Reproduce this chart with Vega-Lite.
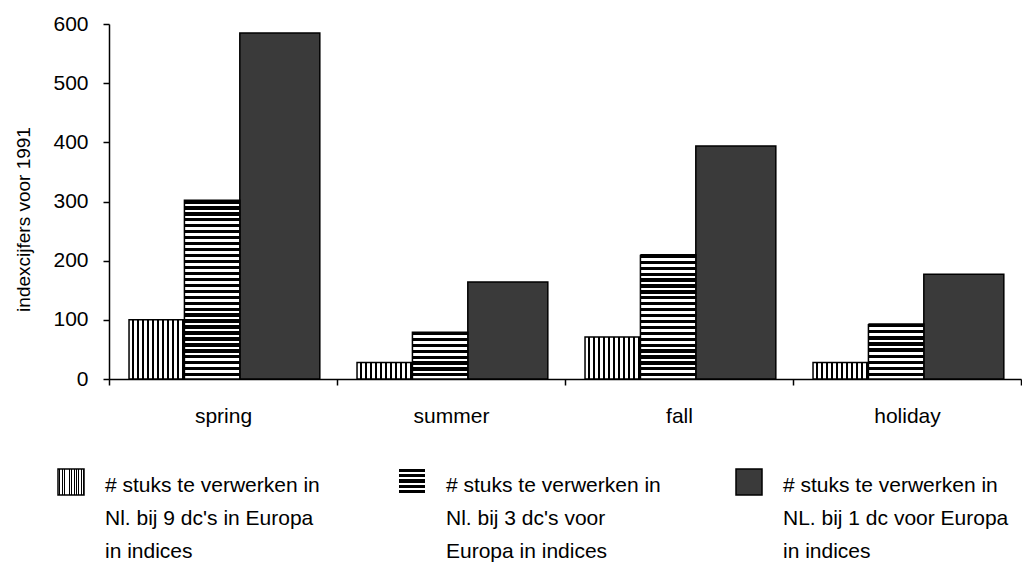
{
  "$schema": "https://vega.github.io/schema/vega-lite/v6.json",
  "width": 912,
  "height": 355,
  "autosize": {"type": "none"},
  "padding": {"left": 109, "top": 24, "right": 1, "bottom": 187},
  "background": "white",
  "config": {
    "view": {"stroke": null},
    "font": "Liberation Sans",
    "style": {"guide-label": {"lineHeight": 33, "dy": 10}}
  },
  "data": {
    "values": [
      {"season": "spring", "series": "# stuks te verwerken in\nNl. bij 9 dc's in Europa\nin indices", "value": 100},
      {"season": "spring", "series": "# stuks te verwerken in\nNl. bij 3 dc's voor\nEuropa in indices", "value": 302},
      {"season": "spring", "series": "# stuks te verwerken in\nNL. bij 1 dc voor Europa\nin indices", "value": 585},
      {"season": "summer", "series": "# stuks te verwerken in\nNl. bij 9 dc's in Europa\nin indices", "value": 28},
      {"season": "summer", "series": "# stuks te verwerken in\nNl. bij 3 dc's voor\nEuropa in indices", "value": 79},
      {"season": "summer", "series": "# stuks te verwerken in\nNL. bij 1 dc voor Europa\nin indices", "value": 164},
      {"season": "fall", "series": "# stuks te verwerken in\nNl. bij 9 dc's in Europa\nin indices", "value": 71},
      {"season": "fall", "series": "# stuks te verwerken in\nNl. bij 3 dc's voor\nEuropa in indices", "value": 210},
      {"season": "fall", "series": "# stuks te verwerken in\nNL. bij 1 dc voor Europa\nin indices", "value": 394},
      {"season": "holiday", "series": "# stuks te verwerken in\nNl. bij 9 dc's in Europa\nin indices", "value": 28},
      {"season": "holiday", "series": "# stuks te verwerken in\nNl. bij 3 dc's voor\nEuropa in indices", "value": 93},
      {"season": "holiday", "series": "# stuks te verwerken in\nNL. bij 1 dc voor Europa\nin indices", "value": 177}
    ]
  },
  "encoding": {
    "x": {
      "field": "season",
      "type": "nominal",
      "sort": ["spring", "summer", "fall", "holiday"],
      "scale": {"paddingInner": 0, "paddingOuter": 0},
      "title": null,
      "axis": {
        "labelAngle": 0,
        "labelFont": "Liberation Sans",
        "labelFontSize": 21,
        "labelColor": "black",
        "labelPadding": 10,
        "domainColor": "black",
        "domainWidth": 1.5,
        "tickColor": "black",
        "tickWidth": 1.5,
        "tickSize": 6,
        "tickBand": "extent",
        "grid": false
      }
    },
    "xOffset": {
      "field": "series",
      "type": "nominal",
      "scale": {
        "domain": [
          "# stuks te verwerken in\nNl. bij 9 dc's in Europa\nin indices",
          "# stuks te verwerken in\nNl. bij 3 dc's voor\nEuropa in indices",
          "# stuks te verwerken in\nNL. bij 1 dc voor Europa\nin indices"
        ],
        "paddingInner": 0,
        "paddingOuter": 0.558,
        "align": 0.324
      }
    },
    "y": {
      "field": "value",
      "type": "quantitative",
      "scale": {"domain": [0, 600], "nice": false},
      "title": "indexcijfers voor 1991",
      "axis": {
        "values": [0, 100, 200, 300, 400, 500, 600],
        "labelFont": "Liberation Sans",
        "labelFontSize": 21,
        "labelColor": "black",
        "labelPadding": 15,
        "labelBaseline": "bottom",
        "domainColor": "black",
        "domainWidth": 1.5,
        "tickColor": "black",
        "tickWidth": 1.5,
        "tickSize": 6,
        "grid": false,
        "titleFont": "Liberation Sans",
        "titleFontSize": 19,
        "titleFontWeight": "normal",
        "titleColor": "black",
        "titleAngle": 270,
        "titleAlign": "center",
        "titleBaseline": "middle",
        "titleX": -86,
        "titleY": 195
      }
    }
  },
  "layer": [
    {
      "transform": [{"filter": {"field": "series", "equal": "# stuks te verwerken in\nNL. bij 1 dc voor Europa\nin indices"}}],
      "mark": {"type": "bar", "align": "left", "width": 80, "stroke": "black", "strokeWidth": 1.5},
      "encoding": {
        "color": {
          "field": "series",
          "type": "nominal",
          "scale": {"range": ["#3a3a3a"]},
          "legend": {
            "title": null,
            "orient": "none",
            "legendX": 626,
            "legendY": 444,
            "padding": 0,
            "symbolType": "square",
            "symbolSize": 676,
            "symbolStrokeColor": "black",
            "symbolStrokeWidth": 1.5,
            "symbolOpacity": 1,
            "labelFont": "Liberation Sans",
            "labelFontSize": 21,
            "labelColor": "black",
            "labelLimit": 400,
            "labelOffset": 20,
            "labelBaseline": "alphabetic",
            "labelExpr": "split(datum.label, '\\n')"
          }
        }
      }
    },
    {
      "transform": [{"filter": {"field": "series", "equal": "# stuks te verwerken in\nNl. bij 9 dc's in Europa\nin indices"}}],
      "mark": {
        "type": "bar",
        "strokeWidth": 1.5,
        "fill": {"gradient": "linear", "x1": 0, "y1": 0, "x2": 1, "y2": 0, "stops": [
          {"offset": 0, "color": "#fff"}, {"offset": 0.0545, "color": "#fff"}, {"offset": 0.0545, "color": "#000"}, {"offset": 0.0909, "color": "#000"},
          {"offset": 0.0909, "color": "#fff"}, {"offset": 0.1455, "color": "#fff"}, {"offset": 0.1455, "color": "#000"}, {"offset": 0.1818, "color": "#000"},
          {"offset": 0.1818, "color": "#fff"}, {"offset": 0.2364, "color": "#fff"}, {"offset": 0.2364, "color": "#000"}, {"offset": 0.2727, "color": "#000"},
          {"offset": 0.2727, "color": "#fff"}, {"offset": 0.3273, "color": "#fff"}, {"offset": 0.3273, "color": "#000"}, {"offset": 0.3636, "color": "#000"},
          {"offset": 0.3636, "color": "#fff"}, {"offset": 0.4182, "color": "#fff"}, {"offset": 0.4182, "color": "#000"}, {"offset": 0.4545, "color": "#000"},
          {"offset": 0.4545, "color": "#fff"}, {"offset": 0.5091, "color": "#fff"}, {"offset": 0.5091, "color": "#000"}, {"offset": 0.5455, "color": "#000"},
          {"offset": 0.5455, "color": "#fff"}, {"offset": 0.6, "color": "#fff"}, {"offset": 0.6, "color": "#000"}, {"offset": 0.6364, "color": "#000"},
          {"offset": 0.6364, "color": "#fff"}, {"offset": 0.6909, "color": "#fff"}, {"offset": 0.6909, "color": "#000"}, {"offset": 0.7273, "color": "#000"},
          {"offset": 0.7273, "color": "#fff"}, {"offset": 0.7818, "color": "#fff"}, {"offset": 0.7818, "color": "#000"}, {"offset": 0.8182, "color": "#000"},
          {"offset": 0.8182, "color": "#fff"}, {"offset": 0.8727, "color": "#fff"}, {"offset": 0.8727, "color": "#000"}, {"offset": 0.9091, "color": "#000"},
          {"offset": 0.9091, "color": "#fff"}, {"offset": 0.9636, "color": "#fff"}, {"offset": 0.9636, "color": "#000"}, {"offset": 1, "color": "#000"}
        ]}
      },
      "encoding": {
        "stroke": {
          "field": "series",
          "type": "nominal",
          "scale": {"range": ["black"]},
          "legend": {
            "title": null,
            "orient": "none",
            "legendX": -52,
            "legendY": 444,
            "padding": 0,
            "symbolType": "square",
            "symbolSize": 676,
            "symbolStrokeWidth": 1.5,
            "symbolOpacity": 1,
            "labelFont": "Liberation Sans",
            "labelFontSize": 21,
            "labelColor": "black",
            "labelLimit": 400,
            "labelOffset": 20,
            "labelBaseline": "alphabetic",
            "labelExpr": "split(datum.label, '\\n')"
          }
        }
      }
    },
    {
      "transform": [{"filter": {"field": "series", "equal": "# stuks te verwerken in\nNl. bij 3 dc's voor\nEuropa in indices"}}],
      "mark": {"type": "bar", "stroke": "black", "strokeWidth": 1.5},
      "encoding": {
        "strokeDash": {
          "field": "series",
          "type": "nominal",
          "scale": {"range": [[1000, 1]]},
          "legend": {
            "title": null,
            "orient": "none",
            "legendX": 289,
            "legendY": 444,
            "padding": 0,
            "symbolType": "square",
            "symbolSize": 676,
            "symbolStrokeColor": "black",
            "symbolStrokeWidth": 1.5,
            "symbolOpacity": 1,
            "labelFont": "Liberation Sans",
            "labelFontSize": 21,
            "labelColor": "black",
            "labelLimit": 400,
            "labelOffset": 20,
            "labelBaseline": "alphabetic",
            "labelExpr": "split(datum.label, '\\n')"
          }
        },
        "fill": {
          "condition": [
            {"test": "datum.season === 'spring'", "value": {"gradient": "linear", "x1": 0, "y1": 0, "x2": 0, "y2": 1, "stops": [
              {"offset": 0, "color": "#000"}, {"offset": 0.0183, "color": "#000"}, {"offset": 0.0183, "color": "#fff"}, {"offset": 0.0333, "color": "#fff"},
              {"offset": 0.0333, "color": "#000"}, {"offset": 0.0517, "color": "#000"}, {"offset": 0.0517, "color": "#fff"}, {"offset": 0.0667, "color": "#fff"},
              {"offset": 0.0667, "color": "#000"}, {"offset": 0.085, "color": "#000"}, {"offset": 0.085, "color": "#fff"}, {"offset": 0.1, "color": "#fff"},
              {"offset": 0.1, "color": "#000"}, {"offset": 0.1183, "color": "#000"}, {"offset": 0.1183, "color": "#fff"}, {"offset": 0.1333, "color": "#fff"},
              {"offset": 0.1333, "color": "#000"}, {"offset": 0.1517, "color": "#000"}, {"offset": 0.1517, "color": "#fff"}, {"offset": 0.1667, "color": "#fff"},
              {"offset": 0.1667, "color": "#000"}, {"offset": 0.185, "color": "#000"}, {"offset": 0.185, "color": "#fff"}, {"offset": 0.2, "color": "#fff"},
              {"offset": 0.2, "color": "#000"}, {"offset": 0.2183, "color": "#000"}, {"offset": 0.2183, "color": "#fff"}, {"offset": 0.2333, "color": "#fff"},
              {"offset": 0.2333, "color": "#000"}, {"offset": 0.2517, "color": "#000"}, {"offset": 0.2517, "color": "#fff"}, {"offset": 0.2667, "color": "#fff"},
              {"offset": 0.2667, "color": "#000"}, {"offset": 0.285, "color": "#000"}, {"offset": 0.285, "color": "#fff"}, {"offset": 0.3, "color": "#fff"},
              {"offset": 0.3, "color": "#000"}, {"offset": 0.3183, "color": "#000"}, {"offset": 0.3183, "color": "#fff"}, {"offset": 0.3333, "color": "#fff"},
              {"offset": 0.3333, "color": "#000"}, {"offset": 0.3517, "color": "#000"}, {"offset": 0.3517, "color": "#fff"}, {"offset": 0.3667, "color": "#fff"},
              {"offset": 0.3667, "color": "#000"}, {"offset": 0.385, "color": "#000"}, {"offset": 0.385, "color": "#fff"}, {"offset": 0.4, "color": "#fff"},
              {"offset": 0.4, "color": "#000"}, {"offset": 0.4183, "color": "#000"}, {"offset": 0.4183, "color": "#fff"}, {"offset": 0.4333, "color": "#fff"},
              {"offset": 0.4333, "color": "#000"}, {"offset": 0.4517, "color": "#000"}, {"offset": 0.4517, "color": "#fff"}, {"offset": 0.4667, "color": "#fff"},
              {"offset": 0.4667, "color": "#000"}, {"offset": 0.485, "color": "#000"}, {"offset": 0.485, "color": "#fff"}, {"offset": 0.5, "color": "#fff"},
              {"offset": 0.5, "color": "#000"}, {"offset": 0.5183, "color": "#000"}, {"offset": 0.5183, "color": "#fff"}, {"offset": 0.5333, "color": "#fff"},
              {"offset": 0.5333, "color": "#000"}, {"offset": 0.5517, "color": "#000"}, {"offset": 0.5517, "color": "#fff"}, {"offset": 0.5667, "color": "#fff"},
              {"offset": 0.5667, "color": "#000"}, {"offset": 0.585, "color": "#000"}, {"offset": 0.585, "color": "#fff"}, {"offset": 0.6, "color": "#fff"},
              {"offset": 0.6, "color": "#000"}, {"offset": 0.6183, "color": "#000"}, {"offset": 0.6183, "color": "#fff"}, {"offset": 0.6333, "color": "#fff"},
              {"offset": 0.6333, "color": "#000"}, {"offset": 0.6517, "color": "#000"}, {"offset": 0.6517, "color": "#fff"}, {"offset": 0.6667, "color": "#fff"},
              {"offset": 0.6667, "color": "#000"}, {"offset": 0.685, "color": "#000"}, {"offset": 0.685, "color": "#fff"}, {"offset": 0.7, "color": "#fff"},
              {"offset": 0.7, "color": "#000"}, {"offset": 0.7183, "color": "#000"}, {"offset": 0.7183, "color": "#fff"}, {"offset": 0.7333, "color": "#fff"},
              {"offset": 0.7333, "color": "#000"}, {"offset": 0.7517, "color": "#000"}, {"offset": 0.7517, "color": "#fff"}, {"offset": 0.7667, "color": "#fff"},
              {"offset": 0.7667, "color": "#000"}, {"offset": 0.785, "color": "#000"}, {"offset": 0.785, "color": "#fff"}, {"offset": 0.8, "color": "#fff"},
              {"offset": 0.8, "color": "#000"}, {"offset": 0.8183, "color": "#000"}, {"offset": 0.8183, "color": "#fff"}, {"offset": 0.8333, "color": "#fff"},
              {"offset": 0.8333, "color": "#000"}, {"offset": 0.8517, "color": "#000"}, {"offset": 0.8517, "color": "#fff"}, {"offset": 0.8667, "color": "#fff"},
              {"offset": 0.8667, "color": "#000"}, {"offset": 0.885, "color": "#000"}, {"offset": 0.885, "color": "#fff"}, {"offset": 0.9, "color": "#fff"},
              {"offset": 0.9, "color": "#000"}, {"offset": 0.9183, "color": "#000"}, {"offset": 0.9183, "color": "#fff"}, {"offset": 0.9333, "color": "#fff"},
              {"offset": 0.9333, "color": "#000"}, {"offset": 0.9517, "color": "#000"}, {"offset": 0.9517, "color": "#fff"}, {"offset": 0.9667, "color": "#fff"},
              {"offset": 0.9667, "color": "#000"}, {"offset": 0.985, "color": "#000"}, {"offset": 0.985, "color": "#fff"}, {"offset": 1, "color": "#fff"}
            ]}},
            {"test": "datum.season === 'fall'", "value": {"gradient": "linear", "x1": 0, "y1": 0, "x2": 0, "y2": 1, "stops": [
              {"offset": 0, "color": "#000"}, {"offset": 0.0262, "color": "#000"}, {"offset": 0.0262, "color": "#fff"}, {"offset": 0.0476, "color": "#fff"},
              {"offset": 0.0476, "color": "#000"}, {"offset": 0.0738, "color": "#000"}, {"offset": 0.0738, "color": "#fff"}, {"offset": 0.0952, "color": "#fff"},
              {"offset": 0.0952, "color": "#000"}, {"offset": 0.1214, "color": "#000"}, {"offset": 0.1214, "color": "#fff"}, {"offset": 0.1429, "color": "#fff"},
              {"offset": 0.1429, "color": "#000"}, {"offset": 0.1691, "color": "#000"}, {"offset": 0.1691, "color": "#fff"}, {"offset": 0.1905, "color": "#fff"},
              {"offset": 0.1905, "color": "#000"}, {"offset": 0.2167, "color": "#000"}, {"offset": 0.2167, "color": "#fff"}, {"offset": 0.2381, "color": "#fff"},
              {"offset": 0.2381, "color": "#000"}, {"offset": 0.2643, "color": "#000"}, {"offset": 0.2643, "color": "#fff"}, {"offset": 0.2857, "color": "#fff"},
              {"offset": 0.2857, "color": "#000"}, {"offset": 0.3119, "color": "#000"}, {"offset": 0.3119, "color": "#fff"}, {"offset": 0.3333, "color": "#fff"},
              {"offset": 0.3333, "color": "#000"}, {"offset": 0.3595, "color": "#000"}, {"offset": 0.3595, "color": "#fff"}, {"offset": 0.381, "color": "#fff"},
              {"offset": 0.381, "color": "#000"}, {"offset": 0.4072, "color": "#000"}, {"offset": 0.4072, "color": "#fff"}, {"offset": 0.4286, "color": "#fff"},
              {"offset": 0.4286, "color": "#000"}, {"offset": 0.4548, "color": "#000"}, {"offset": 0.4548, "color": "#fff"}, {"offset": 0.4762, "color": "#fff"},
              {"offset": 0.4762, "color": "#000"}, {"offset": 0.5024, "color": "#000"}, {"offset": 0.5024, "color": "#fff"}, {"offset": 0.5238, "color": "#fff"},
              {"offset": 0.5238, "color": "#000"}, {"offset": 0.55, "color": "#000"}, {"offset": 0.55, "color": "#fff"}, {"offset": 0.5714, "color": "#fff"},
              {"offset": 0.5714, "color": "#000"}, {"offset": 0.5976, "color": "#000"}, {"offset": 0.5976, "color": "#fff"}, {"offset": 0.619, "color": "#fff"},
              {"offset": 0.619, "color": "#000"}, {"offset": 0.6452, "color": "#000"}, {"offset": 0.6452, "color": "#fff"}, {"offset": 0.6667, "color": "#fff"},
              {"offset": 0.6667, "color": "#000"}, {"offset": 0.6929, "color": "#000"}, {"offset": 0.6929, "color": "#fff"}, {"offset": 0.7143, "color": "#fff"},
              {"offset": 0.7143, "color": "#000"}, {"offset": 0.7405, "color": "#000"}, {"offset": 0.7405, "color": "#fff"}, {"offset": 0.7619, "color": "#fff"},
              {"offset": 0.7619, "color": "#000"}, {"offset": 0.7881, "color": "#000"}, {"offset": 0.7881, "color": "#fff"}, {"offset": 0.8095, "color": "#fff"},
              {"offset": 0.8095, "color": "#000"}, {"offset": 0.8357, "color": "#000"}, {"offset": 0.8357, "color": "#fff"}, {"offset": 0.8571, "color": "#fff"},
              {"offset": 0.8571, "color": "#000"}, {"offset": 0.8833, "color": "#000"}, {"offset": 0.8833, "color": "#fff"}, {"offset": 0.9048, "color": "#fff"},
              {"offset": 0.9048, "color": "#000"}, {"offset": 0.931, "color": "#000"}, {"offset": 0.931, "color": "#fff"}, {"offset": 0.9524, "color": "#fff"},
              {"offset": 0.9524, "color": "#000"}, {"offset": 0.9786, "color": "#000"}, {"offset": 0.9786, "color": "#fff"}, {"offset": 1, "color": "#fff"}
            ]}},
            {"test": "datum.season === 'summer'", "value": {"gradient": "linear", "x1": 0, "y1": 0, "x2": 0, "y2": 1, "stops": [
              {"offset": 0, "color": "#000"}, {"offset": 0.0688, "color": "#000"}, {"offset": 0.0688, "color": "#fff"}, {"offset": 0.125, "color": "#fff"},
              {"offset": 0.125, "color": "#000"}, {"offset": 0.1938, "color": "#000"}, {"offset": 0.1938, "color": "#fff"}, {"offset": 0.25, "color": "#fff"},
              {"offset": 0.25, "color": "#000"}, {"offset": 0.3188, "color": "#000"}, {"offset": 0.3188, "color": "#fff"}, {"offset": 0.375, "color": "#fff"},
              {"offset": 0.375, "color": "#000"}, {"offset": 0.4438, "color": "#000"}, {"offset": 0.4438, "color": "#fff"}, {"offset": 0.5, "color": "#fff"},
              {"offset": 0.5, "color": "#000"}, {"offset": 0.5688, "color": "#000"}, {"offset": 0.5688, "color": "#fff"}, {"offset": 0.625, "color": "#fff"},
              {"offset": 0.625, "color": "#000"}, {"offset": 0.6938, "color": "#000"}, {"offset": 0.6938, "color": "#fff"}, {"offset": 0.75, "color": "#fff"},
              {"offset": 0.75, "color": "#000"}, {"offset": 0.8188, "color": "#000"}, {"offset": 0.8188, "color": "#fff"}, {"offset": 0.875, "color": "#fff"},
              {"offset": 0.875, "color": "#000"}, {"offset": 0.9438, "color": "#000"}, {"offset": 0.9438, "color": "#fff"}, {"offset": 1, "color": "#fff"}
            ]}},
            {"test": "datum.season === 'holiday'", "value": {"gradient": "linear", "x1": 0, "y1": 0, "x2": 0, "y2": 1, "stops": [
              {"offset": 0, "color": "#000"}, {"offset": 0.0611, "color": "#000"}, {"offset": 0.0611, "color": "#fff"}, {"offset": 0.1111, "color": "#fff"},
              {"offset": 0.1111, "color": "#000"}, {"offset": 0.1722, "color": "#000"}, {"offset": 0.1722, "color": "#fff"}, {"offset": 0.2222, "color": "#fff"},
              {"offset": 0.2222, "color": "#000"}, {"offset": 0.2833, "color": "#000"}, {"offset": 0.2833, "color": "#fff"}, {"offset": 0.3333, "color": "#fff"},
              {"offset": 0.3333, "color": "#000"}, {"offset": 0.3944, "color": "#000"}, {"offset": 0.3944, "color": "#fff"}, {"offset": 0.4444, "color": "#fff"},
              {"offset": 0.4444, "color": "#000"}, {"offset": 0.5056, "color": "#000"}, {"offset": 0.5056, "color": "#fff"}, {"offset": 0.5556, "color": "#fff"},
              {"offset": 0.5556, "color": "#000"}, {"offset": 0.6167, "color": "#000"}, {"offset": 0.6167, "color": "#fff"}, {"offset": 0.6667, "color": "#fff"},
              {"offset": 0.6667, "color": "#000"}, {"offset": 0.7278, "color": "#000"}, {"offset": 0.7278, "color": "#fff"}, {"offset": 0.7778, "color": "#fff"},
              {"offset": 0.7778, "color": "#000"}, {"offset": 0.8389, "color": "#000"}, {"offset": 0.8389, "color": "#fff"}, {"offset": 0.8889, "color": "#fff"},
              {"offset": 0.8889, "color": "#000"}, {"offset": 0.95, "color": "#000"}, {"offset": 0.95, "color": "#fff"}, {"offset": 1, "color": "#fff"}
            ]}}
          ],
          "value": {"gradient": "linear", "x1": 0, "y1": 0, "x2": 0, "y2": 1, "stops": [
            {"offset": 0, "color": "#000"}, {"offset": 0.12, "color": "#000"}, {"offset": 0.12, "color": "#fff"}, {"offset": 0.2, "color": "#fff"},
            {"offset": 0.2, "color": "#000"}, {"offset": 0.32, "color": "#000"}, {"offset": 0.32, "color": "#fff"}, {"offset": 0.4, "color": "#fff"},
            {"offset": 0.4, "color": "#000"}, {"offset": 0.52, "color": "#000"}, {"offset": 0.52, "color": "#fff"}, {"offset": 0.6, "color": "#fff"},
            {"offset": 0.6, "color": "#000"}, {"offset": 0.72, "color": "#000"}, {"offset": 0.72, "color": "#fff"}, {"offset": 0.8, "color": "#fff"},
            {"offset": 0.8, "color": "#000"}, {"offset": 0.92, "color": "#000"}, {"offset": 0.92, "color": "#fff"}, {"offset": 1, "color": "#fff"}
          ]}
        }
      }
    }
  ]
}
